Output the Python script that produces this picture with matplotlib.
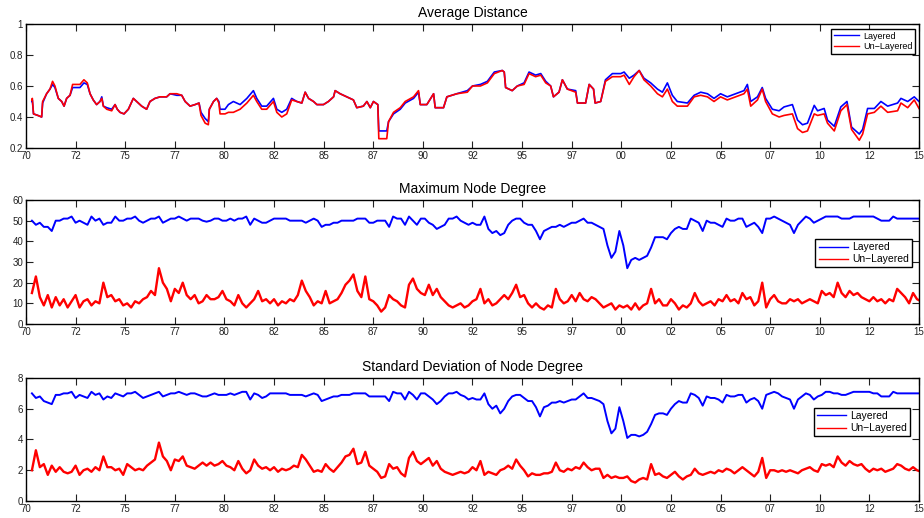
"""
Three stacked time-series panels: layered vs un-layered network statistics,
1970-2015. MATLAB-like look: boxed axes, inward ticks, plain legends.
"""

import matplotlib

matplotlib.use("Agg")
import matplotlib.pyplot as plt
import numpy as np

# ── Data ─────────────────────────────────────────────────────────────────────

XTICK_LABELS = ["70", "72", "75", "77", "80", "82", "85", "87", "90", "92",
                "95", "97", "00", "02", "05", "07", "10", "12", "15"]

# Average distance, read at irregular dates (year, layered, un-layered)
AD_YEARS = [
    1970.30, 1970.32, 1970.38, 1970.60, 1970.79, 1970.84, 1971.04, 1971.21,
    1971.34, 1971.46, 1971.63, 1971.80, 1971.92, 1972.05, 1972.22, 1972.35,
    1972.72, 1972.92, 1973.09, 1973.23, 1973.39, 1973.56, 1973.73, 1973.82,
    1973.90, 1974.07, 1974.32, 1974.49, 1974.60, 1974.74, 1974.94, 1975.16,
    1975.41, 1975.58, 1975.83, 1976.08, 1976.25, 1976.50, 1976.76, 1977.09,
    1977.26, 1977.60, 1977.85, 1978.02, 1978.27, 1978.52, 1978.72, 1978.82,
    1979.03, 1979.19, 1979.24, 1979.45, 1979.61, 1979.72, 1979.78, 1980.03,
    1980.20, 1980.45, 1980.79, 1981.13, 1981.46, 1981.63, 1981.88, 1982.13,
    1982.47, 1982.64, 1982.89, 1983.14, 1983.39, 1983.65, 1983.90, 1984.07,
    1984.24, 1984.49, 1984.66, 1984.99, 1985.24, 1985.50, 1985.58, 1985.83,
    1986.17, 1986.50, 1986.67, 1987.00, 1987.18, 1987.35, 1987.51, 1987.73,
    1987.78, 1988.18, 1988.27, 1988.52, 1988.86, 1989.11, 1989.53, 1989.78,
    1989.87, 1990.20, 1990.54, 1990.62, 1991.04, 1991.21, 1991.71, 1992.24,
    1992.50, 1992.90, 1993.25, 1993.60, 1994.00, 1994.10, 1994.17, 1994.50,
    1994.76, 1995.10, 1995.35, 1995.68, 1995.94, 1996.19, 1996.44, 1996.58,
    1996.86, 1997.03, 1997.28, 1997.70, 1997.79, 1998.20, 1998.38, 1998.60,
    1998.68, 1998.96, 1999.20, 1999.55, 1999.97, 2000.14, 2000.40, 2000.64,
    2000.90, 2001.14, 2001.48, 2001.82, 2002.07, 2002.32, 2002.57, 2002.82,
    2003.33, 2003.67, 2004.00, 2004.34, 2004.67, 2005.00, 2005.34, 2005.76,
    2006.18, 2006.35, 2006.52, 2006.86, 2007.10, 2007.27, 2007.61, 2007.95,
    2008.20, 2008.62, 2008.88, 2009.13, 2009.38, 2009.72, 2009.89, 2010.22,
    2010.39, 2010.73, 2011.06, 2011.37, 2011.60, 2011.99, 2012.16, 2012.41,
    2012.75, 2013.08, 2013.42, 2013.92, 2014.09, 2014.43, 2014.76, 2015.00,
]
AD_LAYERED = [
    0.50, 0.51, 0.42, 0.41, 0.40, 0.49, 0.55, 0.58,
    0.61, 0.59, 0.52, 0.50, 0.47, 0.52, 0.54, 0.59,
    0.59, 0.62, 0.61, 0.55, 0.51, 0.48, 0.50, 0.53,
    0.47, 0.46, 0.45, 0.48, 0.45, 0.43, 0.42, 0.45,
    0.52, 0.50, 0.47, 0.45, 0.50, 0.52, 0.53, 0.53,
    0.55, 0.54, 0.54, 0.50, 0.47, 0.48, 0.49, 0.43,
    0.39, 0.37, 0.45, 0.50, 0.52, 0.50, 0.45, 0.45,
    0.48, 0.50, 0.48, 0.52, 0.57, 0.52, 0.47, 0.47,
    0.52, 0.45, 0.43, 0.45, 0.52, 0.50, 0.49, 0.56,
    0.52, 0.50, 0.48, 0.48, 0.50, 0.53, 0.57, 0.55,
    0.53, 0.51, 0.46, 0.47, 0.50, 0.46, 0.50, 0.48,
    0.31, 0.31, 0.37, 0.42, 0.45, 0.49, 0.52, 0.56,
    0.48, 0.48, 0.55, 0.46, 0.46, 0.53, 0.55, 0.57,
    0.60, 0.61, 0.63, 0.69, 0.70, 0.69, 0.59, 0.57,
    0.60, 0.62, 0.69, 0.67, 0.68, 0.63, 0.60, 0.53,
    0.56, 0.64, 0.58, 0.57, 0.49, 0.49, 0.61, 0.58,
    0.49, 0.50, 0.64, 0.68, 0.68, 0.69, 0.65, 0.67,
    0.70, 0.65, 0.62, 0.58, 0.56, 0.62, 0.54, 0.50,
    0.49, 0.54, 0.56, 0.55, 0.52, 0.55, 0.53, 0.55,
    0.57, 0.61, 0.50, 0.53, 0.59, 0.52, 0.45, 0.44,
    0.465, 0.48, 0.38, 0.35, 0.36, 0.475, 0.44, 0.455,
    0.38, 0.34, 0.465, 0.50, 0.335, 0.29, 0.32, 0.455,
    0.455, 0.50, 0.47, 0.49, 0.52, 0.50, 0.53, 0.50,
]
AD_UNLAYERED = [
    0.51, 0.52, 0.42, 0.41, 0.40, 0.50, 0.55, 0.58,
    0.63, 0.60, 0.52, 0.50, 0.47, 0.52, 0.54, 0.61,
    0.61, 0.64, 0.62, 0.55, 0.51, 0.48, 0.50, 0.52,
    0.47, 0.45, 0.44, 0.48, 0.45, 0.43, 0.42, 0.45,
    0.52, 0.50, 0.47, 0.45, 0.50, 0.52, 0.53, 0.53,
    0.55, 0.55, 0.54, 0.50, 0.47, 0.48, 0.49, 0.41,
    0.36, 0.35, 0.45, 0.50, 0.52, 0.49, 0.42, 0.42,
    0.43, 0.43, 0.45, 0.49, 0.54, 0.50, 0.45, 0.45,
    0.50, 0.43, 0.40, 0.42, 0.51, 0.50, 0.49, 0.56,
    0.52, 0.50, 0.48, 0.48, 0.50, 0.53, 0.57, 0.55,
    0.53, 0.51, 0.46, 0.47, 0.50, 0.46, 0.50, 0.48,
    0.26, 0.26, 0.37, 0.43, 0.46, 0.50, 0.53, 0.57,
    0.48, 0.48, 0.55, 0.46, 0.46, 0.53, 0.55, 0.56,
    0.60, 0.60, 0.62, 0.68, 0.70, 0.69, 0.59, 0.57,
    0.60, 0.61, 0.68, 0.66, 0.67, 0.62, 0.60, 0.53,
    0.56, 0.64, 0.58, 0.56, 0.49, 0.49, 0.61, 0.58,
    0.49, 0.50, 0.63, 0.66, 0.66, 0.67, 0.61, 0.66,
    0.70, 0.64, 0.60, 0.55, 0.53, 0.58, 0.50, 0.47,
    0.47, 0.53, 0.54, 0.53, 0.50, 0.53, 0.51, 0.53,
    0.55, 0.58, 0.47, 0.51, 0.58, 0.50, 0.42, 0.40,
    0.41, 0.42, 0.325, 0.30, 0.31, 0.42, 0.41, 0.42,
    0.36, 0.31, 0.44, 0.48, 0.32, 0.25, 0.29, 0.42,
    0.43, 0.47, 0.43, 0.44, 0.49, 0.46, 0.51, 0.455,
]

# Max node degree and std of node degree, sampled every 0.2 years from 1970.3
SAMPLE_START = 1970.3
SAMPLE_STEP = 0.2

MND_LAYERED = [
    50, 48, 49, 47, 47, 45, 50, 50, 51, 51,      # 1970.3
    52, 49, 50, 49, 48, 52, 50, 51, 48, 49,      # 1972.3
    49, 52, 50, 50, 51, 51, 52, 50, 49, 50,      # 1974.3
    51, 51, 52, 49, 50, 51, 51, 52, 51, 50,      # 1976.3
    51, 51, 51, 50, 49.5, 50, 51, 51, 50, 50,    # 1978.3
    51, 50, 51, 51, 52, 48, 51, 50, 49, 49,      # 1980.3
    50, 51, 51, 51, 51, 50, 50, 50, 50, 49,      # 1982.3
    50, 51, 50, 47, 48, 48, 49, 49, 50, 50,      # 1984.3
    50, 50, 51, 51, 51, 49, 49, 50, 50, 50,      # 1986.3
    47, 52, 51, 51, 48, 52, 50, 48, 51, 51,      # 1988.3
    49, 48, 46, 47, 48, 51, 51, 52, 50, 49,      # 1990.3
    48, 49, 48, 48, 52, 46, 44, 45, 43, 44,      # 1992.3
    48, 50, 51, 51, 49, 48, 48, 45, 41, 45,      # 1994.3
    46, 47, 47, 48, 47, 48, 49, 49, 50, 51,      # 1996.3
    49, 49, 48, 47, 46, 38, 32, 35, 45, 38,      # 1998.3
    27, 31, 32, 31, 32, 33, 37, 42, 42, 42,      # 2000.3
    41, 44, 46, 47, 46, 46, 51, 50, 49, 45,      # 2002.3
    50, 49, 49, 48, 47, 51, 50, 50, 51, 51,      # 2004.3
    47, 48, 49, 47, 44, 51, 51, 52, 51, 50,      # 2006.3
    49, 48, 44, 48, 50, 52, 51, 49, 50, 51,      # 2008.3
    52, 52, 52, 52, 51, 51, 51, 52, 52, 52,      # 2010.3
    52, 52, 52, 51, 50, 50, 50, 52, 51, 51,      # 2012.3
    51, 51, 51, 51, 51,                          # 2014.3
]
MND_UNLAYERED = [
    15, 23, 13, 9, 14, 8, 13, 9, 12, 8,          # 1970.3
    11, 14, 8, 11, 12, 9, 11, 10, 20, 13,        # 1972.3
    14, 11, 12, 9, 10, 8, 11, 10, 12, 13,        # 1974.3
    16, 14, 27, 20, 17, 11, 17, 15, 20, 14,      # 1976.3
    12, 14, 10, 11, 14, 12, 12, 13, 16, 12,      # 1978.3
    11, 9, 14, 10, 8, 10, 12, 16, 11, 12,        # 1980.3
    10, 12, 9, 11, 10, 12, 11, 14, 21, 16,       # 1982.3
    13, 9, 11, 10, 16, 10, 11, 12, 15, 19,       # 1984.3
    21, 24, 16, 13, 23, 12, 11, 9, 6, 8,         # 1986.3
    14, 12, 11, 9, 8, 19, 22, 17, 15, 14,        # 1988.3
    19, 14, 17, 13, 11, 9, 8, 9, 10, 8,          # 1990.3
    9, 11, 12, 17, 10, 12, 9, 10, 12, 14,        # 1992.3
    12, 15, 19, 13, 14, 10, 8, 10, 8, 7,         # 1994.3
    9, 8, 17, 12, 10, 11, 14, 11, 15, 12,        # 1996.3
    11, 13, 12, 10, 8, 9, 10, 7, 9, 8,           # 1998.3
    9, 7, 10, 7, 9, 10, 17, 10, 12, 9,           # 2000.3
    9, 12, 10, 7, 9, 8, 10, 15, 11, 9,           # 2002.3
    10, 11, 9, 12, 11, 14, 11, 12, 10, 15,       # 2004.3
    12, 13, 9, 11, 20, 8, 12, 14, 11, 10,        # 2006.3
    10, 12, 11, 12, 10, 11, 12, 11, 10, 16,      # 2008.3
    14, 15, 13, 20, 15, 13, 16, 14, 15, 13,      # 2010.3
    12, 11, 13, 11, 12, 10, 12, 11, 17, 15,      # 2012.3
    13, 10, 15, 12, 11,                          # 2014.3
]

SD_LAYERED = [
    7.0, 6.7, 6.8, 6.5, 6.4, 6.3, 6.9, 6.9, 7.0, 7.0,   # 1970.3
    7.1, 6.7, 6.9, 6.8, 6.7, 7.1, 6.9, 7.0, 6.6, 6.8,   # 1972.3
    6.7, 7.0, 6.9, 6.8, 7.0, 7.0, 7.1, 6.9, 6.7, 6.8,   # 1974.3
    6.9, 7.0, 7.1, 6.8, 6.9, 7.0, 7.0, 7.1, 7.0, 6.9,   # 1976.3
    7.0, 7.0, 6.9, 6.8, 6.8, 6.9, 7.0, 6.9, 6.9, 6.9,   # 1978.3
    7.0, 6.9, 7.0, 7.1, 7.1, 6.6, 7.0, 6.9, 6.7, 6.8,   # 1980.3
    7.0, 7.0, 7.0, 7.0, 7.0, 6.9, 6.9, 6.9, 6.9, 6.8,   # 1982.3
    6.9, 7.0, 6.9, 6.5, 6.6, 6.7, 6.8, 6.8, 6.9, 6.9,   # 1984.3
    6.9, 7.0, 7.0, 7.0, 7.0, 6.8, 6.8, 6.8, 6.8, 6.8,   # 1986.3
    6.5, 7.1, 7.0, 7.0, 6.6, 7.1, 6.9, 6.6, 7.0, 7.0,   # 1988.3
    6.8, 6.6, 6.3, 6.5, 6.8, 7.0, 7.0, 7.1, 6.9, 6.8,   # 1990.3
    6.6, 6.7, 6.6, 6.6, 7.0, 6.3, 6.0, 6.2, 5.7, 6.0,   # 1992.3
    6.5, 6.8, 6.9, 6.9, 6.7, 6.5, 6.5, 6.1, 5.5, 6.1,   # 1994.3
    6.2, 6.4, 6.4, 6.5, 6.4, 6.5, 6.6, 6.6, 6.8, 7.0,   # 1996.3
    6.7, 6.7, 6.6, 6.5, 6.3, 5.2, 4.4, 4.7, 6.1, 5.2,   # 1998.3
    4.1, 4.3, 4.3, 4.2, 4.3, 4.5, 5.0, 5.6, 5.7, 5.7,   # 2000.3
    5.6, 6.0, 6.3, 6.5, 6.4, 6.4, 7.0, 6.9, 6.7, 6.2,   # 2002.3
    6.8, 6.7, 6.7, 6.6, 6.4, 6.9, 6.8, 6.8, 6.9, 6.9,   # 2004.3
    6.4, 6.6, 6.7, 6.5, 6.0, 6.9, 7.0, 7.1, 7.0, 6.8,   # 2006.3
    6.7, 6.6, 6.0, 6.6, 6.8, 7.0, 6.9, 6.6, 6.8, 6.9,   # 2008.3
    7.1, 7.1, 7.0, 7.0, 6.9, 6.9, 7.0, 7.1, 7.1, 7.1,   # 2010.3
    7.1, 7.1, 7.0, 7.0, 6.8, 6.8, 6.8, 7.1, 7.0, 7.0,   # 2012.3
    7.0, 7.0, 7.0, 7.0, 7.0,                            # 2014.3
]
SD_UNLAYERED = [
    2.0, 3.3, 2.2, 2.4, 1.7, 2.3, 1.9, 2.2, 1.9, 1.8,   # 1970.3
    1.9, 2.3, 1.7, 2.0, 2.1, 1.9, 2.2, 2.0, 2.9, 2.2,   # 1972.3
    2.2, 2.0, 2.1, 1.7, 2.4, 2.2, 2.0, 2.1, 2.0, 2.3,   # 1974.3
    2.5, 2.7, 3.8, 2.9, 2.6, 2.0, 2.7, 2.6, 2.9, 2.3,   # 1976.3
    2.2, 2.1, 2.3, 2.5, 2.3, 2.5, 2.3, 2.4, 2.6, 2.3,   # 1978.3
    2.2, 2.0, 2.6, 2.1, 1.8, 2.0, 2.7, 2.3, 2.1, 2.2,   # 1980.3
    2.0, 2.2, 1.9, 2.1, 2.0, 2.1, 2.3, 2.2, 3.0, 2.7,   # 1982.3
    2.3, 1.9, 2.0, 1.9, 2.4, 2.1, 1.9, 2.2, 2.5, 2.9,   # 1984.3
    3.0, 3.4, 2.4, 2.5, 3.2, 2.3, 2.1, 1.9, 1.5, 1.6,   # 1986.3
    2.4, 2.1, 2.2, 1.8, 1.6, 2.8, 3.2, 2.6, 2.4, 2.6,   # 1988.3
    2.8, 2.3, 2.6, 2.1, 1.9, 1.8, 1.7, 1.8, 1.9, 1.8,   # 1990.3
    1.9, 2.2, 2.0, 2.6, 1.7, 1.9, 1.8, 1.7, 2.0, 2.1,   # 1992.3
    2.3, 2.1, 2.7, 2.3, 2.0, 1.6, 1.8, 1.7, 1.7, 1.8,   # 1994.3
    1.8, 1.9, 2.5, 2.0, 1.9, 2.1, 2.0, 2.2, 2.1, 2.5,   # 1996.3
    2.2, 2.0, 2.1, 2.1, 1.5, 1.7, 1.5, 1.6, 1.5, 1.5,   # 1998.3
    1.6, 1.3, 1.2, 1.4, 1.5, 1.4, 2.4, 1.7, 1.8, 1.6,   # 2000.3
    1.5, 1.7, 1.9, 1.6, 1.4, 1.6, 1.7, 2.1, 1.8, 1.7,   # 2002.3
    1.8, 1.9, 1.8, 2.0, 1.9, 2.1, 2.0, 1.8, 2.0, 2.2,   # 2004.3
    2.0, 1.8, 1.6, 1.9, 2.8, 1.5, 2.0, 2.0, 1.9, 2.0,   # 2006.3
    1.9, 2.0, 1.9, 1.8, 2.0, 2.1, 2.2, 2.0, 1.9, 2.4,   # 2008.3
    2.3, 2.4, 2.2, 2.9, 2.5, 2.3, 2.6, 2.4, 2.3, 2.4,   # 2010.3
    2.1, 1.9, 2.1, 2.0, 2.1, 1.9, 2.0, 2.1, 2.4, 2.3,   # 2012.3
    2.1, 2.0, 2.2, 2.0, 1.9,                            # 2014.3
]

# ── Style ────────────────────────────────────────────────────────────────────

LAYERED_COLOR = "#0000ff"
UNLAYERED_COLOR = "#ff0000"

plt.rcParams.update(
    {
        "font.family": ["Liberation Sans", "DejaVu Sans"],
        "font.size": 7,
        "axes.linewidth": 1.0,
        "xtick.direction": "in",
        "ytick.direction": "in",
        "xtick.top": True,
        "ytick.right": True,
        "xtick.major.size": 5,
        "ytick.major.size": 5,
        "xtick.major.width": 0.8,
        "ytick.major.width": 0.8,
        "xtick.major.pad": 2,
        "ytick.major.pad": 2,
        "legend.fancybox": False,
        "legend.framealpha": 1.0,
        "legend.edgecolor": "black",
    }
)


def style_axes(ax, ylim, yticks, yticklabels):
    ax.set_xlim(1970, 2015)
    ax.set_xticks(1970 + 2.5 * np.arange(len(XTICK_LABELS)))
    ax.set_xticklabels(XTICK_LABELS)
    ax.set_ylim(*ylim)
    ax.set_yticks(yticks)
    ax.set_yticklabels(yticklabels)
    ax.tick_params(colors="#222222", labelsize=7)


def add_legend(ax, anchor, fontsize):
    leg = ax.legend(
        loc="upper right",
        bbox_to_anchor=anchor,
        fontsize=fontsize,
        handlelength=2.8,
        handletextpad=0.4,
        borderpad=0.3,
        labelspacing=0.2,
        borderaxespad=0,
    )
    leg.get_frame().set_linewidth(1.0)
    for line in leg.get_lines():
        line.set_linewidth(1.0)


fig = plt.figure(figsize=(9.24, 5.18), dpi=100)

# Panel positions (figure fractions)
ax1 = fig.add_axes([0.0281, 0.7143, 0.9665, 0.2394])
ax2 = fig.add_axes([0.0281, 0.3745, 0.9665, 0.2394])
ax3 = fig.add_axes([0.0281, 0.0328, 0.9665, 0.2375])

# ── Average distance ────────────────────────────────────────────────────────
ax1.plot(AD_YEARS, AD_LAYERED, color=LAYERED_COLOR, lw=1.2, label="Layered")
ax1.plot(AD_YEARS, AD_UNLAYERED, color=UNLAYERED_COLOR, lw=1.2,
         label="Un\u2212Layered")
style_axes(ax1, (0.2, 1.0), [0.2, 0.4, 0.6, 0.8, 1.0],
           ["0.2", "0.4", "0.6", "0.8", "1"])
ax1.set_title("Average Distance", fontsize=10, pad=5)
add_legend(ax1, (0.9955, 0.96), 6.5)

# ── Maximum node degree ─────────────────────────────────────────────────────
t_mnd = SAMPLE_START + SAMPLE_STEP * np.arange(len(MND_LAYERED))
ax2.plot(t_mnd, MND_LAYERED, color=LAYERED_COLOR, lw=1.4, label="Layered")
ax2.plot(t_mnd, MND_UNLAYERED, color=UNLAYERED_COLOR, lw=1.7,
         label="Un\u2212Layered")
style_axes(ax2, (0, 60), [0, 10, 20, 30, 40, 50, 60],
           ["0", "10", "20", "30", "40", "50", "60"])
ax2.set_title("Maximum Node Degree", fontsize=10, pad=5)
add_legend(ax2, (0.992, 0.685), 7.5)

# ── Standard deviation of node degree ───────────────────────────────────────
t_sd = SAMPLE_START + SAMPLE_STEP * np.arange(len(SD_LAYERED))
ax3.plot(t_sd, SD_LAYERED, color=LAYERED_COLOR, lw=1.4, label="Layered")
ax3.plot(t_sd, SD_UNLAYERED, color=UNLAYERED_COLOR, lw=1.7,
         label="Un\u2212Layered")
style_axes(ax3, (0, 8), [0, 2, 4, 6, 8], ["0", "2", "4", "6", "8"])
ax3.set_title("Standard Deviation of Node Degree", fontsize=10, pad=5)
add_legend(ax3, (0.990, 0.756), 7.5)

fig.savefig("out.png", dpi=100)
